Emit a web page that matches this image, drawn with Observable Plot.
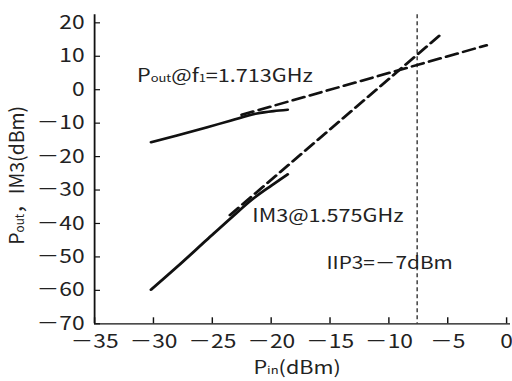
<!DOCTYPE html>
<html>
<head>
<meta charset="utf-8">
<script src="https://cdn.jsdelivr.net/npm/d3@7"></script>
<script src="https://cdn.jsdelivr.net/npm/@observablehq/plot@0.6"></script>
<style>
  html, body { margin: 0; padding: 0; background: #fff; }
  #chart { width: 512px; height: 381px; overflow: hidden; }
</style>
</head>
<body>
<div id="chart"></div>
<script>
// ---- data ----
const xDomain = [-35, 0.34];
const yDomain = [-70, 22.4];
const xTicks = [-35, -30, -25, -20, -15, -10, -5, 0];
const yTicks = [-70, -60, -50, -40, -30, -20, -10, 0, 10, 20];

// measured Pout @ f1 (solid)
const poutX = [-30.2, -28.0, -25.5, -23.4, -21.2, -19.8, -18.6];
const poutY = [-15.7, -13.7, -11.3, -9.2, -7.1, -6.4, -6.0];
// measured IM3 (solid)
const im3X = [-30.2, -28.0, -25.5, -23.4, -21.5, -20.0, -18.6];
const im3Y = [-59.8, -53.0, -45.0, -38.3, -32.5, -28.7, -25.3];
// extrapolations (dashed)
const poutExtX = [-22.5, -1.7];
const poutExtY = [-7.5, 13.3];
const im3ExtX = [-23.5, -5.5];
const im3ExtY = [-37.5, 16.8];
// IIP3 marker
const iip3X = [-7.6];

// annotations
const noteText = ["Pout@f1=1.713GHz", "IM3@1.575GHz", "IIP3=－7dBm"];
const noteX = [-31.4, -21.6, -15.3];
const noteY = [4.1, -37.7, -52.0];
const noteSize = [18, 18, 17.3];
const xLabel = "Pin(dBm)";
const yLabel = "Pout，IM3(dBm)";

// ---- layout ----
const s = 1.2;            // horizontal stretch of the whole drawing
const W = 512 / s;
const ink = "#111";

const toRows = (xs, ys) => xs.map((x, i) => ({x, y: ys[i]}));
const notes = noteText.map((t, i) => ({t, x: noteX[i], y: noteY[i], fs: noteSize[i]}));
const fmt = d => (d < 0 ? "－" + Math.abs(d) : String(d));

const plot = Plot.plot({
  width: W,
  height: 381,
  marginLeft: 94 / s,
  marginRight: 2 / s,
  marginTop: 14.3,
  marginBottom: 57.7,
  x: {domain: xDomain},
  y: {domain: yDomain},
  style: {fontFamily: "'Noto Sans CJK JP', 'Noto Sans', sans-serif", fontSize: "19px", background: "#fff", color: "#222"},
  marks: [
    Plot.axisX(xTicks, {tickSize: -6, tickPadding: 17, label: null, strokeWidth: 1.2, stroke: ink, tickFormat: fmt, fontSize: 19}),
    Plot.axisY(yTicks, {tickSize: -6 / s, tickPadding: 16 / s, label: null, strokeWidth: 1.2, stroke: ink, tickFormat: fmt, fontSize: 19}),
    Plot.ruleX(xDomain.slice(0, 1), {stroke: ink, strokeWidth: 1.5}),
    Plot.ruleY(yDomain.slice(0, 1), {stroke: ink, strokeWidth: 1.3}),
    Plot.ruleX(iip3X, {stroke: ink, strokeWidth: 1, strokeDasharray: "4,3"}),
    Plot.line(toRows(poutExtX, poutExtY), {x: "x", y: "y", stroke: ink, strokeWidth: 2.6, strokeDasharray: "10,5"}),
    Plot.line(toRows(im3ExtX, im3ExtY), {x: "x", y: "y", stroke: ink, strokeWidth: 2.6, strokeDasharray: "10,5"}),
    Plot.line(toRows(poutX, poutY), {x: "x", y: "y", stroke: ink, strokeWidth: 2.6, curve: "monotone-x"}),
    Plot.line(toRows(im3X, im3Y), {x: "x", y: "y", stroke: ink, strokeWidth: 2.6, curve: "monotone-x"}),
    Plot.text(notes, {x: "x", y: "y", text: "t", textAnchor: "start", fill: "#222", fontSize: "fs"}),
    Plot.text([xLabel], {frameAnchor: "bottom", textAnchor: "middle", dx: -5.5 / s, dy: 50, fill: "#222", fontSize: 18}),
    Plot.text([yLabel], {frameAnchor: "left", textAnchor: "middle", rotate: -90, dx: (17.5 - 94) / s, dy: 6, fill: "#222", fontSize: 19.5})
  ]
});

// subscripts, and undo the stretch on the rotated label's thickness
d3.select(plot).selectAll("text").each(function () {
  const t = this.textContent;
  if (/Pout|f1|Pin/.test(t)) {
    this.innerHTML = t
      .replace("Pout", 'P<tspan font-size="0.6em">out</tspan>')
      .replace("f1", 'f<tspan font-size="0.6em">1</tspan>')
      .replace("Pin", 'P<tspan font-size="0.6em">in</tspan>');
  }
  if (t === yLabel) {
    const tr = this.getAttribute("transform") || "";
    this.setAttribute("transform", tr + ` scale(1, ${1 / s})`);
  }
});

plot.setAttribute("width", 512);
plot.setAttribute("height", 381);
plot.setAttribute("preserveAspectRatio", "none");
plot.style.width = "512px";
plot.style.height = "381px";
plot.style.maxWidth = "none";
document.getElementById("chart").appendChild(plot);
</script>
</body>
</html>
